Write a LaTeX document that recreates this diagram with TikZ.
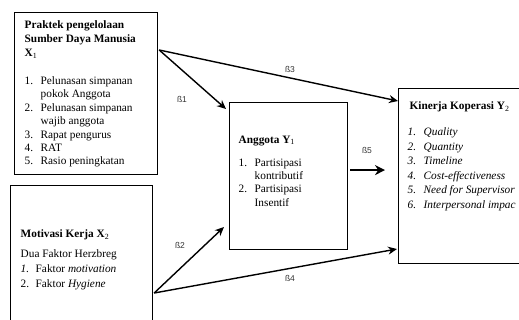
\documentclass[tikz,border=0pt]{standalone}
\usepackage{fontspec}
\setmainfont{Liberation Serif}
\newfontfamily\labelfont{Liberation Sans}
\usepackage{tikz}
\usetikzlibrary{arrows.meta,positioning}
\newcommand{\itm}[3][16pt]{\makebox[#1][l]{#2}#3}

\begin{document}
\begin{tikzpicture}[x=1pt, y=-1pt,
    box/.style={draw=black, line width=1.2pt, rectangle, anchor=north west, inner sep=0pt},
    txt/.style={anchor=north west, inner sep=0pt, align=left, font=\fontsize{11.3}{13.4}\selectfont},
    head/.style={txt, font=\fontsize{11.3}{14}\selectfont\bfseries},
    beta/.style={font=\labelfont\fontsize{8.5}{10}\selectfont, text=black!80, inner sep=0pt},
    >={Stealth[length=9pt,width=8pt]}, line width=1.4pt]

   \useasboundingbox (0,0) rectangle (519,320);
   \clip (0,0) rectangle (519,320);

   %boxes
   \node[box, minimum width=143pt, minimum height=162pt] (x1) at (14,12) {};
   \node[box, minimum width=142pt, minimum height=150pt] (x2) at (10,185) {};
   \node[box, minimum width=118pt, minimum height=147pt] (y1) at (229,102) {};
   \node[box, minimum width=140pt, minimum height=175pt] (y2) at (398,88) {};

   %praktek X1
   \node[head] (x1head) at (24,20) {Praktek pengelolaan\\ Sumber Daya Manusia\\ X\textsubscript{\normalfont 1}};
   \node[txt] (x1list) at (24,76) {\itm{1.}{Pelunasan simpanan}\\ \itm{}{pokok Anggota}\\
      \itm{2.}{Pelunasan simpanan}\\ \itm{}{wajib anggota}\\ \itm{3.}{Rapat pengurus}\\
      \itm{4.}{RAT}\\ \itm{5.}{Rasio peningkatan}};

   %motivasi X2
   \node[head] (x2head) at (20,229) {Motivasi Kerja X\textsubscript{\normalfont 2}};
   \node[txt, font=\fontsize{11.3}{15}\selectfont] (x2list) at (20,249) {Dua Faktor Herzbreg\\
      \itm[15pt]{\textit{1.}}{Faktor \textit{motivation}}\\ \itm[15pt]{2.}{Faktor \textit{Hygiene}}};

   %anggota Y1
   \node[head] (y1head) at (238,135) {Anggota Y\textsubscript{\normalfont 1}};
   \node[txt] (y1list) at (238,158) {\itm{1.}{Partisipasi}\\ \itm{}{kontributif}\\
      \itm{2.}{Partisipasi}\\ \itm{}{Insentif}};

   %kinerja Y2
   \node[head] (y2head) at (409,101) {Kinerja Koperasi Y\textsubscript{\normalfont 2}};
   \node[txt, font=\fontsize{11.3}{14.6}\selectfont\itshape] (y2list) at (407,127) {\itm{1.}{Quality}\\
      \itm{2.}{Quantity}\\ \itm{3.}{Timeline}\\ \itm{4.}{Cost-effectiveness}\\
      \itm{5.}{Need for Supervisor}\\ \itm{6.}{Interpersonal impac}};

   %beta labels
   \node[beta] (b1) at (182,99) {ß1};
   \node[beta] (b3) at (290,69) {ß3};
   \node[beta] (b5) at (367,150) {ß5};
   \node[beta] (b2) at (180,245) {ß2};
   \node[beta] (b4) at (290,278) {ß4};

  \path[->]
    ([shift={(1pt,-38pt)}]x1.north east) edge ([shift={(-3pt,-7pt)}]y1.north west)
          edge ([yshift=-13pt]y2.north west)
    ([shift={(1pt,-108pt)}]x2.north east) edge ([shift={(-5pt,-125pt)}]y1.north west)
          edge ([shift={(-1pt,-161pt)}]y2.north west);
  \draw[->, line width=2.6pt, >={Stealth[length=10pt,width=10pt]}]
    ([shift={(2pt,6pt)}]y1.east) -- ([shift={(-13pt,6pt)}]y2.west);
\end{tikzpicture}
\end{document}
